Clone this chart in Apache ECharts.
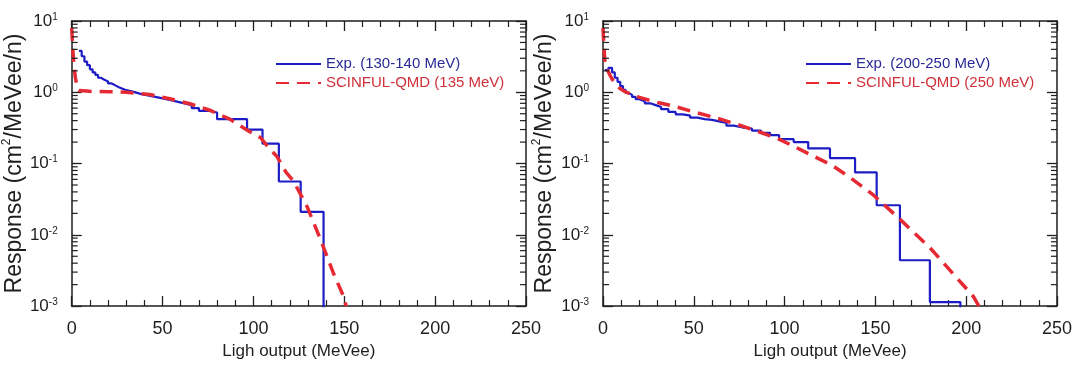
<!DOCTYPE html>
<html>
<head>
<meta charset="utf-8">
<title>Response</title>
<script src="https://cdn.jsdelivr.net/npm/echarts@6/dist/echarts.min.js"></script>
<style>
html, body { margin: 0; padding: 0; background: #fff; }
#chart { width: 1077px; height: 365px; }
</style>
</head>
<body>
<div id="chart"></div>
<script>
// left panel, 130-140 MeV
var leftExpX = [4, 5.5, 7, 8.5, 10, 11.5, 13, 14.5, 16, 18, 20, 22, 24, 26, 28, 30, 33, 36, 39, 42, 46, 50, 54, 58, 62, 66, 70, 75, 80, 96.5, 105, 114, 126, 138.6];
var leftExpY = [3.8, 3.2, 2.7, 2.4, 2.1, 1.9, 1.75, 1.6, 1.5, 1.42, 1.33, 1.25, 1.18, 1.12, 1.07, 1.03, 0.98, 0.93, 0.9, 0.86, 0.82, 0.78, 0.74, 0.7, 0.66, 0.6, 0.55, 0.52, 0.42, 0.30, 0.19, 0.056, 0.021, 0.0001];
var leftCalcX = [0, 0.6, 1.2, 2, 3, 4, 10, 20, 30, 43, 54, 65, 76, 87, 98, 104, 109, 113, 118, 122, 129.5, 137, 144, 150, 151];
var leftCalcY = [8, 4, 2.5, 1.6, 1.2, 1.06, 1.03, 1.02, 1.0, 0.93, 0.81, 0.69, 0.56, 0.42, 0.28, 0.23, 0.16, 0.125, 0.075, 0.057, 0.025, 0.0085, 0.0029, 0.0013, 0.001];

// right panel, 200-250 MeV
var rightExpX = [1, 3, 5, 6.5, 8, 9.5, 11, 12.5, 14, 16, 18, 20, 23, 26, 29, 32, 36, 40, 44, 48, 52, 56, 60, 64, 68, 72, 77, 82, 87, 92, 97, 105, 113, 125, 138.8, 150.7, 163.5, 180, 196.8];
var rightExpY = [2.05, 2.2, 1.9, 1.6, 1.4, 1.22, 1.08, 0.98, 0.92, 0.86, 0.8, 0.75, 0.7, 0.66, 0.62, 0.58, 0.53, 0.49, 0.47, 0.44, 0.42, 0.41, 0.39, 0.37, 0.34, 0.32, 0.31, 0.29, 0.27, 0.25, 0.22, 0.20, 0.163, 0.119, 0.075, 0.026, 0.0044, 0.00114, 0.0001];
var rightCalcX = [0, 0.5, 1, 2, 4, 6, 9, 12, 16, 20, 25, 30, 39, 50, 62, 73, 84, 96, 106, 117, 126, 136, 149, 163, 180, 193, 204, 207];
var rightCalcY = [8, 4.5, 2.8, 2.2, 1.7, 1.4, 1.15, 1.02, 0.93, 0.85, 0.78, 0.72, 0.64, 0.53, 0.44, 0.36, 0.29, 0.225, 0.17, 0.123, 0.095, 0.064, 0.036, 0.017, 0.0066, 0.0028, 0.00136, 0.001];

var seriesNames = [
  ['Exp. (130-140 MeV)', 'SCINFUL-QMD (135 MeV)'],
  ['Exp. (200-250 MeV)', 'SCINFUL-QMD (250 MeV)']
];
var minorTickValues = [
  0.002, 0.003, 0.004, 0.005, 0.006, 0.007, 0.008, 0.009,
  0.02, 0.03, 0.04, 0.05, 0.06, 0.07, 0.08, 0.09,
  0.2, 0.3, 0.4, 0.5, 0.6, 0.7, 0.8, 0.9,
  2, 3, 4, 5, 6, 7, 8, 9
];

var FONT = '"Liberation Sans", Arial, Helvetica, sans-serif';
var INK = '#1e1e1e';
var BLUE = '#1d1dc6';
var RED = '#e52a33';

function zip(xs, ys) {
  return xs.map(function (x, i) { return [x, ys[i]]; });
}

function xAxis(grid, pos) {
  var bottom = pos === 'bottom';
  return {
    type: 'value', gridIndex: grid, position: pos,
    min: 0, max: 250, interval: 50,
    name: bottom ? 'Ligh output (MeVee)' : '',
    nameLocation: 'middle', nameGap: 31,
    nameTextStyle: { fontFamily: FONT, fontSize: 17, color: INK },
    axisLine: { show: true, onZero: false, lineStyle: { color: INK, width: 1.5 } },
    axisTick: { show: true, inside: true, length: 10, lineStyle: { color: INK, width: 1.3 } },
    minorTick: { show: true, splitNumber: 5, length: 6, lineStyle: { color: INK, width: 1.2 } },
    axisLabel: { show: bottom, margin: 14, fontFamily: FONT, fontSize: 18, color: INK },
    splitLine: { show: false }
  };
}

function yAxis(grid, pos, gap) {
  var left = pos === 'left';
  return {
    type: 'log', logBase: 10, gridIndex: grid, position: pos,
    min: 0.001, max: 10,
    name: left ? '{a|Response (cm}{s|2}{a|/MeVee/n)}' : '',
    nameLocation: 'middle', nameGap: gap, nameRotate: 90,
    nameTextStyle: {
      rich: {
        a: { fontFamily: FONT, fontSize: 23, color: INK, lineHeight: 25, verticalAlign: 'bottom' },
        s: { fontFamily: FONT, fontSize: 12, color: INK, lineHeight: 13, verticalAlign: 'top' }
      }
    },
    axisLine: { show: true, onZero: false, lineStyle: { color: INK, width: 1.5 } },
    axisTick: { show: true, inside: true, length: 10, lineStyle: { color: INK, width: 1.3 } },
    axisLabel: {
      show: left, margin: 14,
      formatter: function (v) {
        return '{b|10}{s|' + Math.round(Math.log10(v)) + '}';
      },
      rich: {
        b: { fontFamily: FONT, fontSize: 17, color: INK, lineHeight: 18 },
        s: { fontFamily: FONT, fontSize: 10, color: INK, lineHeight: 6, verticalAlign: 'top' }
      }
    },
    splitLine: { show: false }
  };
}

function minorTicks(params, api) {
  var v = api.value(1);
  var l = api.coord([0, v]);
  var r = api.coord([250, v]);
  var st = { stroke: INK, lineWidth: 1.2 };
  return {
    type: 'group',
    children: [
      { type: 'line', shape: { x1: l[0], y1: l[1], x2: l[0] + 6, y2: l[1] }, style: st },
      { type: 'line', shape: { x1: r[0] - 6, y1: r[1], x2: r[0], y2: r[1] }, style: st }
    ]
  };
}

function panelSeries(p, expData, calcData) {
  return [
    {
      name: seriesNames[p][0], type: 'line', xAxisIndex: p * 2, yAxisIndex: p * 2,
      data: expData, step: 'end', symbol: 'none',
      lineStyle: { color: BLUE, width: 2.2 }, itemStyle: { color: BLUE }, z: 3
    },
    {
      name: seriesNames[p][1], type: 'line', xAxisIndex: p * 2, yAxisIndex: p * 2,
      data: calcData, symbol: 'none',
      lineStyle: { color: RED, width: 3.5, type: [13, 8] }, itemStyle: { color: RED }, z: 4
    },
    {
      type: 'custom', xAxisIndex: p * 2, yAxisIndex: p * 2, silent: true, clip: false,
      data: minorTickValues.map(function (v) { return [0, v]; }),
      renderItem: minorTicks, z: 5
    }
  ];
}

function legend(p, left) {
  return {
    orient: 'vertical', left: left, top: 50, itemWidth: 45, itemHeight: 12, itemGap: 1,
    selectedMode: false,
    itemStyle: { opacity: 0 },
    textStyle: { fontFamily: FONT, fontSize: 15, lineHeight: 18 },
    data: [
      { name: seriesNames[p][0], textStyle: { color: '#2a2a96' } },
      { name: seriesNames[p][1], textStyle: { color: '#cf3039' } }
    ]
  };
}

var chart = echarts.init(document.getElementById('chart'));
chart.setOption({
  backgroundColor: '#fff',
  animation: false,
  grid: [
    { left: 71, top: 21, width: 455, height: 290 },
    { left: 603, top: 21, width: 454, height: 288 }
  ],
  legend: [legend(0, 270), legend(1, 800)],
  xAxis: [xAxis(0, 'bottom'), xAxis(0, 'top'), xAxis(1, 'bottom'), xAxis(1, 'top')],
  yAxis: [yAxis(0, 'left', 45), yAxis(0, 'right', 0), yAxis(1, 'left', 47), yAxis(1, 'right', 0)],
  series: panelSeries(0, zip(leftExpX, leftExpY), zip(leftCalcX, leftCalcY))
    .concat(panelSeries(1, zip(rightExpX, rightExpY), zip(rightCalcX, rightCalcY)))
});
</script>
</body>
</html>
